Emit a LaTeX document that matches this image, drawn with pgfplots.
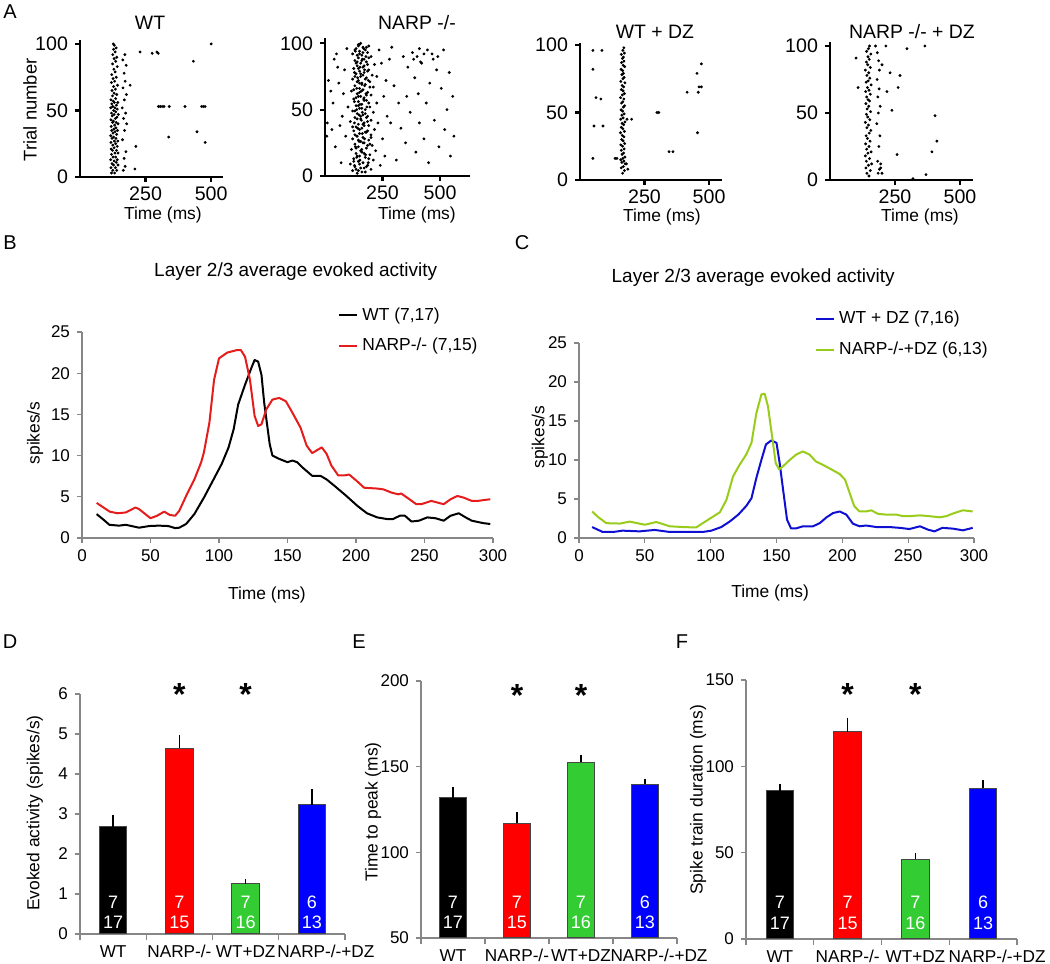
\documentclass[border=0pt]{standalone}
\usepackage{pgfplots}
\pgfplotsset{compat=1.18}
\usepackage{fontspec}
\setmainfont{Liberation Sans}

\definecolor{cred}{RGB}{228,28,28}
\definecolor{cgreen}{RGB}{153,204,26}
\definecolor{cblue}{RGB}{15,15,210}
\definecolor{bred}{RGB}{255,0,0}
\definecolor{bgreen}{RGB}{51,204,51}
\definecolor{bblue}{RGB}{0,0,255}
\definecolor{axgray}{RGB}{135,135,135}
\definecolor{bargray}{RGB}{70,70,70}

\newcommand{\fs}[1]{\fontsize{#1}{#1}\selectfont}

\tikzset{
  inbar/.style={white, font=\fs{9}, inner sep=0pt},
  star/.style={anchor=north, font=\fs{16}\bfseries, inner sep=0pt},
}

\pgfplotsset{
  /pgf/number format/assume math mode=true,
  raster/.style={
    scale only axis, clip=false,
    axis lines*=left,
    axis line style={black, line width=1.4pt, -},
    tick style={black, line width=1.1pt},
    tick align=outside, major tick length=2.5pt,
    xmin=0, ymin=0,
    ytick={0,50,100}, xtick={250,500},
    ticklabel style={font=\fs{9.8}},
    xticklabel style={yshift=1pt},
    xlabel={Time (ms)},
    xlabel style={font=\fs{8.7}, anchor=center},
    title style={font=\fs{9.7}, anchor=center, yshift=-6pt},
  },
  dots/.style={only marks, mark=*, mark size=0.5pt, black},
  trace/.style={
    scale only axis, clip=false,
    axis lines*=left,
    axis line style={axgray, line width=0.6pt, -},
    tick style={axgray, line width=0.6pt},
    tick align=outside, major tick length=2.5pt,
    xmin=0, xmax=300, ymin=0, ymax=25,
    xtick={0,50,...,300}, ytick={0,5,...,25},
    ticklabel style={font=\fs{8.5}},
    xlabel={Time (ms)}, ylabel={spikes/s},
    label style={font=\fs{8.7}, anchor=center},
    title={Layer 2/3 average evoked activity},
    title style={font=\fs{9.5}, anchor=center, yshift=-6pt},
    legend style={draw=none, fill=none, font=\fs{8.7}, anchor=north west, row sep=3.5pt, inner sep=0pt, cells={anchor=west}},
    legend image code/.code={\draw[line width=1pt] (0pt,0pt) -- (9pt,0pt);},
  },
  bars/.style={
    scale only axis,
    axis lines*=left,
    axis line style={axgray, line width=0.6pt, -},
    tick style={axgray, line width=0.6pt},
    tick align=outside, major tick length=2.5pt, minor tick length=3pt,
    xmin=-0.5, xmax=3.5,
    xtick={0,1,2,3},
    xticklabels={WT,NARP-/-,WT+DZ,\hspace*{14pt}NARP-/-+DZ},
    major x tick style={draw=none},
    minor xtick={-0.5,0.5,1.5,2.5,3.5},
    xticklabel style={font=\fs{8.6}, inner sep=1pt, yshift=-2pt},
    yticklabel style={font=\fs{8.5}},
    ylabel style={font=\fs{8.7}, anchor=center},
  },
  mybar/.style={ybar, bar width=13.7pt, draw=bargray, line width=0.5pt, fill=#1,
    error bars/y dir=plus, error bars/y explicit, error bars/error mark=none,
    error bars/error bar style={black, line width=0.8pt}},
}

\begin{document}
\begin{tikzpicture}
\path[use as bounding box] (0,0) rectangle (525pt,482pt);

% ---------------- A: rasters ----------------
\begin{axis}[raster, at={(40pt,393.5pt)}, anchor=south west, width=71.5pt, height=68.5pt, xmax=545, ymax=103,
  ylabel={Trial number}, ylabel style={font=\fs{9.2}, anchor=center, at={(axis description cs:-0.35,0.49)}},
  xlabel style={at={(axis description cs:0.58,-0.275)}},
  title={WT}, title style={at={(axis description cs:0.49,1.124)}}]
\addplot[dots] table[row sep=\\]{
x y\\
120 3\\ 132 3\\ 125 5\\ 140 5\\ 118 7\\ 135 7\\ 128 9\\ 145 9\\ 122 10\\ 138 11\\ 130 12\\ 117 13\\ 142 13\\
126 15\\ 136 15\\ 120 17\\ 133 18\\ 145 18\\ 124 20\\ 139 20\\ 119 21\\ 130 22\\ 142 23\\ 125 24\\ 136 25\\
118 26\\ 131 27\\ 144 27\\ 122 29\\ 137 29\\ 128 30\\ 117 31\\ 140 32\\ 126 33\\ 134 34\\ 121 35\\ 143 35\\
129 36\\ 137 37\\ 119 38\\ 132 39\\ 145 40\\ 124 41\\ 138 41\\ 127 42\\ 118 43\\ 135 44\\ 141 45\\ 123 46\\
130 47\\ 146 47\\ 120 48\\ 136 49\\ 128 50\\ 142 51\\ 117 52\\ 133 52\\ 125 53\\ 139 54\\ 121 55\\ 131 56\\
144 56\\ 127 57\\ 118 58\\ 136 59\\ 124 61\\ 140 62\\ 130 63\\ 122 65\\ 135 66\\ 128 68\\ 143 69\\ 120 71\\
132 72\\ 126 74\\ 138 75\\ 121 77\\ 134 79\\ 129 81\\ 142 83\\ 124 85\\ 136 87\\ 130 89\\ 140 90\\ 125 92\\
134 94\\ 128 96\\ 138 97\\ 131 99\\ 127 100\\
165 5\\ 172 8\\ 168 14\\ 175 19\\ 162 28\\ 170 35\\ 178 40\\ 166 44\\ 174 48\\ 161 52\\ 169 58\\ 177 62\\
164 67\\ 172 72\\ 168 78\\ 176 84\\ 163 88\\ 171 92\\
229 94\\ 275 93\\ 293 94\\ 298 93\\ 500 100\\ 432 87\\ 191 69\\ 299 53\\ 306 53\\ 313 53\\ 320 53\\ 340 53\\
400 53\\ 464 53\\ 471 53\\ 477 53\\ 338 30\\ 446 34\\ 477 26\\ 213 23\\ 209 6\\
};
\end{axis}

\begin{axis}[raster, at={(162.5pt,394pt)}, anchor=south west, width=72.5pt, height=69pt, xmax=630, ymax=104,
  xlabel style={at={(axis description cs:0.634,-0.28)}},
  title={NARP -/-}, title style={at={(axis description cs:0.634,1.109)}}]
\addplot[dots] table[row sep=\\]{
x y\\
140 2\\ 175 3\\ 120 4\\ 200 5\\ 155 6\\ 130 7\\ 185 8\\ 110 9\\ 165 10\\ 145 11\\ 210 12\\ 125 13\\ 175 14\\
150 15\\ 195 16\\ 135 17\\ 160 18\\ 220 19\\ 115 20\\ 180 21\\ 145 22\\ 205 23\\ 130 24\\ 170 25\\ 155 26\\
190 27\\ 120 28\\ 165 29\\ 140 30\\ 200 31\\ 150 32\\ 180 33\\ 125 34\\ 215 35\\ 160 36\\ 135 37\\ 190 38\\
145 39\\ 170 40\\ 110 41\\ 200 42\\ 155 43\\ 130 44\\ 185 45\\ 165 46\\ 140 47\\ 210 48\\ 120 49\\ 175 50\\
150 51\\ 195 52\\ 135 53\\ 160 54\\ 225 55\\ 145 56\\ 180 57\\ 125 58\\ 170 59\\ 155 60\\ 200 61\\ 140 62\\
185 63\\ 115 64\\ 165 65\\ 150 66\\ 210 67\\ 130 68\\ 175 69\\ 160 70\\ 195 71\\ 145 72\\ 120 73\\ 180 74\\
155 75\\ 205 76\\ 135 77\\ 170 78\\ 150 79\\ 190 80\\ 125 81\\ 165 82\\ 140 83\\ 215 84\\ 155 85\\ 180 86\\
130 87\\ 170 88\\ 145 89\\ 200 90\\ 160 91\\ 120 92\\ 185 93\\ 150 94\\ 175 95\\ 135 96\\ 165 97\\ 190 98\\
145 99\\ 155 100\\
160 3\\ 135 5\\ 180 7\\ 150 9\\ 125 11\\ 190 13\\ 140 15\\ 170 17\\ 155 19\\ 135 21\\ 185 23\\ 165 25\\
145 27\\ 200 29\\ 130 31\\ 175 33\\ 150 35\\ 120 37\\ 165 39\\ 185 41\\ 140 43\\ 155 45\\ 175 47\\ 130 49\\
160 51\\ 145 53\\ 190 55\\ 170 57\\ 135 59\\ 180 61\\ 150 63\\ 125 65\\ 195 67\\ 160 69\\ 140 71\\ 175 73\\
130 75\\ 155 77\\ 185 79\\ 145 81\\ 170 83\\ 135 85\\ 160 87\\ 190 89\\ 140 91\\ 165 93\\ 130 95\\ 180 97\\
150 99\\
145 4\\ 170 6\\ 128 8\\ 188 10\\ 152 12\\ 138 14\\ 176 16\\ 160 20\\ 132 22\\ 195 24\\ 148 26\\ 172 28\\
138 30\\ 162 32\\ 185 34\\ 142 36\\ 170 38\\ 128 40\\ 158 42\\ 180 44\\ 148 46\\ 162 48\\ 138 50\\ 182 52\\
152 54\\ 128 56\\ 168 58\\ 145 60\\ 178 62\\ 158 64\\ 138 66\\ 172 68\\ 150 70\\ 188 72\\ 142 74\\ 165 76\\
128 78\\ 172 80\\ 152 82\\ 185 84\\ 140 86\\ 162 88\\ 178 90\\ 150 92\\ 132 94\\ 168 96\\ 145 98\\
15 72\\ 25 64\\ 10 40\\ 30 35\\ 8 30\\ 40 88\\ 50 92\\ 35 55\\ 60 70\\ 45 22\\ 70 10\\ 80 62\\ 75 45\\
65 38\\ 85 80\\ 95 96\\ 55 82\\ 90 30\\ 100 52\\ 240 8\\ 250 28\\ 255 60\\ 265 72\\ 270 45\\ 280 88\\
290 97\\ 300 68\\ 310 12\\ 320 55\\ 330 36\\ 340 90\\ 350 25\\ 355 60\\ 360 82\\ 370 48\\ 380 93\\ 390 74\\
395 18\\ 405 62\\ 410 40\\ 420 85\\ 430 28\\ 440 55\\ 450 10\\ 455 70\\ 465 92\\ 475 42\\ 485 80\\ 495 22\\
505 66\\ 515 95\\ 520 35\\ 530 50\\ 540 78\\ 545 15\\ 555 60\\ 560 30\\ 230 40\\ 245 85\\ 260 15\\ 235 95\\
285 40\\ 225 75\\ 385 88\\ 400 90\\ 415 86\\ 430 92\\ 445 95\\ 470 88\\ 490 90\\ 410 96\\
};
\end{axis}

\begin{axis}[raster, at={(290pt,392pt)}, anchor=south west, width=71pt, height=68.5pt, xmax=550, ymax=101.5,
  xlabel style={at={(axis description cs:0.577,-0.27)}},
  title={WT + DZ}, title style={at={(axis description cs:0.528,1.08)}}]
\addplot[dots] table[row sep=\\]{
x y\\
165 5\\ 172 7\\ 160 9\\ 168 10\\ 175 12\\ 162 13\\ 170 14\\ 158 15\\ 166 16\\ 174 17\\ 163 19\\ 169 20\\
160 22\\ 171 23\\ 165 25\\ 158 26\\ 173 27\\ 167 29\\ 161 30\\ 170 32\\ 164 33\\ 157 35\\ 172 36\\ 166 38\\
160 39\\ 169 41\\ 163 42\\ 174 43\\ 158 45\\ 167 46\\ 162 48\\ 171 49\\ 165 51\\ 159 52\\ 168 54\\ 173 55\\
161 57\\ 166 58\\ 170 60\\ 157 61\\ 164 63\\ 172 64\\ 167 66\\ 160 67\\ 169 69\\ 163 70\\ 174 72\\ 158 73\\
166 75\\ 171 76\\ 162 78\\ 168 79\\ 165 81\\ 159 82\\ 173 84\\ 167 85\\ 161 87\\ 170 88\\ 164 90\\ 168 91\\
160 93\\ 172 94\\ 166 96\\ 170 98\\
50 96\\ 85 96\\ 50 82\\ 62 61\\ 81 60\\ 54 40\\ 89 40\\ 50 16\\ 136 16\\ 143 16\\ 182 45\\ 200 45\\
298 50\\ 305 50\\ 345 21\\ 360 21\\ 415 65\\ 453 79\\ 470 86\\ 458 65\\ 461 69\\ 470 69\\ 455 35\\
185 8\\ 180 12\\
};
\end{axis}

\begin{axis}[raster, at={(415pt,392pt)}, anchor=south west, width=71.5pt, height=69pt, xmax=550, ymax=103,
  xlabel style={at={(axis description cs:0.629,-0.27)}},
  title={NARP -/- + DZ}, title style={at={(axis description cs:0.573,1.072)}}]
\addplot[dots] table[row sep=\\]{
x y\\
150 3\\ 142 5\\ 155 7\\ 138 9\\ 148 11\\ 160 12\\ 140 14\\ 152 16\\ 136 18\\ 146 20\\ 158 21\\ 141 23\\
150 25\\ 137 27\\ 154 29\\ 144 31\\ 139 33\\ 151 35\\ 157 37\\ 142 39\\ 148 41\\ 136 43\\ 153 45\\ 145 47\\
140 49\\ 156 51\\ 143 53\\ 149 55\\ 138 57\\ 152 59\\ 146 60\\ 141 62\\ 155 64\\ 137 66\\ 150 67\\ 144 69\\
158 71\\ 139 73\\ 147 74\\ 153 76\\ 142 78\\ 149 80\\ 136 82\\ 155 84\\ 145 86\\ 140 88\\ 151 90\\ 146 92\\
157 94\\ 141 96\\ 148 98\\ 152 100\\
185 5\\ 190 8\\ 195 12\\ 183 14\\ 188 25\\ 192 33\\ 180 42\\ 186 50\\ 193 55\\ 184 62\\ 189 68\\ 181 75\\
190 82\\ 187 89\\ 182 95\\ 175 100\\
100 91\\ 108 69\\ 215 100\\ 296 98\\ 365 100\\ 231 80\\ 200 86\\ 219 66\\ 262 69\\ 269 78\\ 238 52\\
404 48\\ 411 29\\ 392 21\\ 258 19\\ 319 1\\ 369 4\\ 195 9\\ 200 5\\
};
\end{axis}

% ---------------- B ----------------
\begin{axis}[trace, at={(41pt,213pt)}, anchor=south west, width=205.5pt, height=103pt,
  xlabel style={at={(axis description cs:0.45,-0.277)}},
  ylabel style={at={(axis description cs:-0.114,0.51)}},
  title style={at={(axis description cs:0.52,1.291)}},
  legend style={at={(0.623,1.14)}}]
\addplot[black, line width=1pt, line join=round] coordinates {
(10.7,2.9) (15.5,2.25) (20,1.6) (27,1.5) (32,1.6) (41.7,1.25) (49,1.45) (56,1.5) (63,1.45) (68,1.2)
(71,1.25) (76,1.7) (82,2.9) (89,4.9) (96,7.1) (102,9) (107,11) (110.7,13.2) (114,16.2) (119,18.6)
(124,20.8) (126,21.6) (128.6,21.4) (131,19.8) (133,16.4) (137,11.4) (139,10) (144,9.6) (150,9.2)
(153.6,9.4) (157,9.2) (161,8.55) (168,7.55) (174,7.55) (178.6,7.1) (184.5,6.3) (193,5.1) (201,3.9)
(208,3.0) (215.5,2.5) (222.6,2.3) (227,2.3) (232,2.7) (235.7,2.7) (240.5,2.0) (246,2.1) (252,2.5)
(258,2.4) (264,2.1) (269,2.7) (275,3.0) (280,2.5) (284.5,2.1) (293,1.8) (298,1.7)};
\addlegendentry{WT (7,17)}
\addplot[cred, line width=1pt, line join=round] coordinates {
(10.7,4.26) (20.2,3.2) (26,3.0) (32,3.1) (39,3.7) (41.7,3.5) (50,2.4) (54.8,2.7) (60,3.2) (64,2.8)
(68,2.7) (71,3.3) (76,5.1) (82,7.1) (87,9.2) (89,10.4) (93,14) (96.4,19.2) (100,21.8) (106,22.5)
(113,22.8) (116,22.8) (119,22) (122.6,19.2) (126,14.8) (128.6,13.6) (131,13.8) (134.5,15.6) (139,16.8)
(144,17) (148.8,16.6) (153.6,15.2) (159.5,13.4) (164,11.2) (168,10.3) (171,10.6) (175,11) (178.6,10.2)
(182,8.8) (187,7.6) (191.7,7.6) (195,7.7) (200,7.0) (206,6.1) (215.5,6.0) (220,5.9) (226,5.5) (231,5.3)
(233,5.4) (239,4.7) (244,4.1) (247.6,4.1) (255,4.5) (259.5,4.3) (264,4.1) (269,4.7) (274,5.1)
(278.6,4.9) (284.5,4.5) (289,4.5) (293,4.6) (298,4.7)};
\addlegendentry{NARP-/- (7,15)}
\end{axis}

% ---------------- C ----------------
\begin{axis}[trace, at={(289.5pt,213pt)}, anchor=south west, width=197.5pt, height=97.5pt,
  xlabel style={at={(axis description cs:0.484,-0.282)}},
  ylabel style={at={(axis description cs:-0.099,0.518)}},
  title style={at={(axis description cs:0.441,1.333)}},
  legend style={at={(0.597,1.185)}}]
\addplot[cblue, line width=1pt, line join=round] coordinates {
(10,1.4) (18,0.77) (26,0.77) (33,0.94) (46,0.85) (57.5,1.03) (69,0.77) (81.5,0.77) (94,0.77)
(100.5,0.94) (108,1.4) (114.4,2.1) (121,3) (127,4.1) (131,5.1) (134.7,7.7) (138.5,10) (142,12)
(146,12.5) (150,12.2) (152.4,9.6) (155,6.2) (158,2.35) (161,1.24) (165,1.24) (170,1.5) (177.7,1.5)
(182.8,1.9) (188,2.65) (193,3.2) (198,3.4) (203,3.0) (208,1.84) (213,1.5) (218,1.6) (226,1.4)
(236,1.4) (243.5,1.3) (251,1.15) (259,1.5) (265,1.07) (270,0.85) (276,1.3) (284,1.2) (291.6,0.98) (299,1.3)};
\addlegendentry{WT + DZ (7,16)}
\addplot[cgreen, line width=1pt, line join=round] coordinates {
(10,3.4) (14.4,2.7) (20.8,1.9) (31,1.85) (38.5,2.1) (50,1.7) (58.7,2.05) (69,1.5) (79,1.4) (89,1.35)
(94,1.9) (100.5,2.6) (107,3.3) (112,4.9) (117,7.9) (122,9.4) (127,10.7) (131,12.2) (134.7,16)
(138.5,18.4) (141,18.5) (143.5,16.9) (147,12.6) (149.4,9.6) (152,8.8) (155,9.2) (160,10) (165,10.7)
(170,11.1) (175,10.7) (180,9.8) (185,9.4) (191.6,8.8) (198,8.2) (202,7.5) (205.5,5.8) (209,4.1)
(213,3.4) (218,3.4) (222,3.55) (227,3.1) (233,3.0) (241,3.0) (246,2.8) (251,2.8) (259,2.9) (266,2.8)
(274,2.65) (279,2.8) (285,3.2) (291.6,3.55) (299,3.4)};
\addlegendentry{NARP-/-+DZ (6,13)}
\end{axis}

% ---------------- D ----------------
\begin{axis}[bars, clip=false, at={(40pt,15pt)}, anchor=south west, width=132.5pt, height=120pt,
  ymin=0, ymax=6, ytick={0,1,...,6},
  ylabel={Evoked activity (spikes/s)}, ylabel style={at={(axis description cs:-0.17,0.504)}}]
\addplot[mybar=black] coordinates {(0,2.68) +- (0,0.30)};
\addplot[mybar=bred] coordinates {(1,4.64) +- (0,0.34)};
\addplot[mybar=bgreen] coordinates {(2,1.25) +- (0,0.13)};
\addplot[mybar=bblue] coordinates {(3,3.23) +- (0,0.39)};
\node[inbar] at (axis cs:0,0.8) {7};   \node[inbar] at (axis cs:0,0.28) {17};
\node[inbar] at (axis cs:1,0.8) {7};   \node[inbar] at (axis cs:1,0.28) {15};
\node[inbar] at (axis cs:2,0.8) {7};   \node[inbar] at (axis cs:2,0.28) {16};
\node[inbar] at (axis cs:3,0.8) {6};   \node[inbar] at (axis cs:3,0.28) {13};
\node[star] at (axis cs:1,6.275) {*};
\node[star] at (axis cs:2,6.275) {*};
\end{axis}

% ---------------- E ----------------
\begin{axis}[bars, at={(210.5pt,13pt)}, anchor=south west, width=128pt, height=128.5pt,
  ymin=50, ymax=200, ytick={50,100,150,200},
  ylabel={Time to peak (ms)}, ylabel style={at={(axis description cs:-0.1875,0.49)}}]
\addplot[mybar=black] coordinates {(0,131.9) +- (0,6.1)};
\addplot[mybar=bred] coordinates {(1,117) +- (0,6.5)};
\addplot[mybar=bgreen] coordinates {(2,152.7) +- (0,4.3)};
\addplot[mybar=bblue] coordinates {(3,139.7) +- (0,3.3)};
\node[inbar] at (axis cs:0,71) {7};   \node[inbar] at (axis cs:0,59.3) {17};
\node[inbar] at (axis cs:1,71) {7};   \node[inbar] at (axis cs:1,59.3) {15};
\node[inbar] at (axis cs:2,71) {7};   \node[inbar] at (axis cs:2,59.3) {16};
\node[inbar] at (axis cs:3,71) {6};   \node[inbar] at (axis cs:3,59.3) {13};
\node[star] at (axis cs:1,198.3) {*};
\node[star] at (axis cs:2,198.3) {*};
\end{axis}

% ---------------- F ----------------
\begin{axis}[bars, clip=false, at={(373pt,12.5pt)}, anchor=south west, width=135.5pt, height=129.5pt,
  ymin=0, ymax=150, ytick={0,50,100,150},
  ylabel={Spike train duration (ms)}, ylabel style={at={(axis description cs:-0.177,0.537)}}]
\addplot[mybar=black] coordinates {(0,86) +- (0,3.8)};
\addplot[mybar=bred] coordinates {(1,120.1) +- (0,8.1)};
\addplot[mybar=bgreen] coordinates {(2,46.3) +- (0,3.4)};
\addplot[mybar=bblue] coordinates {(3,87.3) +- (0,4.5)};
\node[inbar] at (axis cs:0,21.4) {7};   \node[inbar] at (axis cs:0,9.3) {17};
\node[inbar] at (axis cs:1,21.4) {7};   \node[inbar] at (axis cs:1,9.3) {15};
\node[inbar] at (axis cs:2,21.4) {7};   \node[inbar] at (axis cs:2,9.3) {16};
\node[inbar] at (axis cs:3,21.4) {6};   \node[inbar] at (axis cs:3,9.3) {13};
\node[star] at (axis cs:1,148.4) {*};
\node[star] at (axis cs:2,148.4) {*};
\end{axis}

% panel letters
\node[font=\fs{10}] at (5pt,476pt) {A};
\node[font=\fs{10}] at (5pt,360.5pt) {B};
\node[font=\fs{10}] at (261pt,360.5pt) {C};
\node[font=\fs{10}] at (5pt,161pt) {D};
\node[font=\fs{10}] at (179.5pt,161pt) {E};
\node[font=\fs{10}] at (341pt,161pt) {F};
\end{tikzpicture}
\end{document}
